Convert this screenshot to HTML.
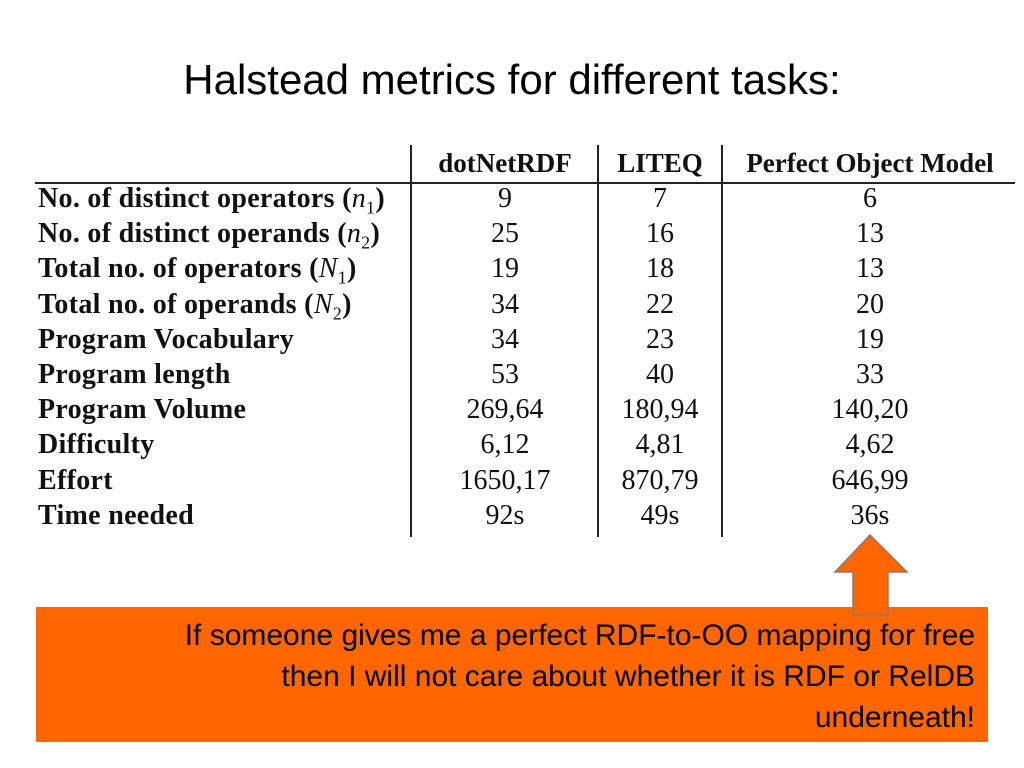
<!DOCTYPE html>
<html><head><meta charset="utf-8"><style>
body{margin:0;width:1024px;height:768px;background:#fff;position:relative;overflow:hidden;font-family:"Liberation Serif",serif}
.t{position:absolute;white-space:nowrap}
.lab{position:absolute;left:38px;font-weight:bold;font-size:28px;line-height:30px;color:#111;white-space:nowrap;letter-spacing:0.3px}
.v{position:absolute;font-size:28px;line-height:30px;transform:translateX(-50%);color:#111;white-space:nowrap}
.h{position:absolute;font-weight:bold;font-size:27px;line-height:30px;top:148px;transform:translateX(-50%);color:#111;white-space:nowrap}
.vl{position:absolute;top:145px;height:392px;width:1.5px;background:#222}
</style></head><body>
<div class="t" style="left:0;width:1024px;text-align:center;top:56px;font-family:'Liberation Sans',sans-serif;font-size:42px;color:#000">Halstead metrics for different tasks:</div>
<div>
<div class="vl" style="left:410px"></div>
<div class="vl" style="left:597px"></div>
<div class="vl" style="left:721px"></div>
<div style="position:absolute;left:35px;top:182px;width:980px;height:1.5px;background:#222"></div>
<div class="h" style="left:505px">dotNetRDF</div>
<div class="h" style="left:660px">LITEQ</div>
<div class="h" style="left:870px">Perfect Object Model</div>
<div id="rows"></div>
</div>
<script>
const labels=['No. of distinct operators (<i style="font-weight:normal">n</i><sub style="font-weight:normal;font-size:18px">1</sub>)','No. of distinct operands (<i style="font-weight:normal">n</i><sub style="font-weight:normal;font-size:18px">2</sub>)','Total no. of operators (<i style="font-weight:normal">N</i><sub style="font-weight:normal;font-size:18px">1</sub>)','Total no. of operands (<i style="font-weight:normal">N</i><sub style="font-weight:normal;font-size:18px">2</sub>)','Program Vocabulary','Program length','Program Volume','Difficulty','Effort','Time needed'];
const dotnet=['9','25','19','34','34','53','269,64','6,12','1650,17','92s'];
const liteq=['7','16','18','22','23','40','180,94','4,81','870,79','49s'];
const pom=['6','13','13','20','19','33','140,20','4,62','646,99','36s'];
const rows=document.getElementById('rows');
labels.forEach((l,i)=>{
 const top=184+i*35.2;
 const a=document.createElement('div');a.className='lab';a.style.top=top+'px';a.innerHTML=l;
 
 
 rows.appendChild(a);
 [[dotnet,505],[liteq,660],[pom,870]].forEach(([arr,x])=>{
  const c=document.createElement('div');c.className='v';c.style.top=top+'px';c.style.left=x+'px';c.textContent=arr[i];
  
  
  rows.appendChild(c);
 });
});
</script>
<div style="position:absolute;left:36px;top:607px;width:952px;height:135px;background:#ff6600"></div>
<div class="t" style="right:49px;top:615px;text-align:right;font-family:'Liberation Sans',sans-serif;font-size:30px;line-height:41px;color:#000">If someone gives me a perfect RDF-to-OO mapping for free<br>then I will not care about whether it is RDF or RelDB<br>underneath!</div>
<svg style="position:absolute;left:0;top:0" width="1024" height="768"><polygon points="870,535 907,572 888,572 888,615 853,615 853,572 835,572" fill="#ff6600" stroke="#8a7a70" stroke-width="1.5"/></svg>
</body></html>
